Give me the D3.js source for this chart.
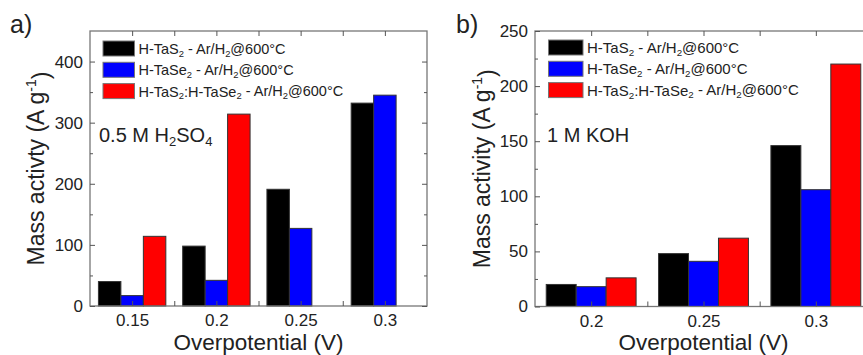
<!DOCTYPE html>
<html>
<head>
<meta charset="utf-8">
<script src="https://cdn.jsdelivr.net/npm/d3@7"></script>
<style>
  body { margin: 0; background: #fff; }
  svg { font-family: "Liberation Sans", Arial, sans-serif; }
</style>
</head>
<body>
<div id="chart"></div>
<script>

// Series (same three samples in both panels)
const seriesColors = ["#000000", "#0000ff", "#ff0000"];
const seriesLabels = [
    [["H-TaS"], ["2", true], [" - Ar/H"], ["2", true], ["@600°C"]],
    [["H-TaSe"], ["2", true], [" - Ar/H"], ["2", true], ["@600°C"]],
    [["H-TaS"], ["2", true], [":H-TaSe"], ["2", true], [" - Ar/H"], ["2", true], ["@600°C"]]
];

// Panel a) 0.5 M H2SO4
const acidPotentials = ["0.15", "0.2", "0.25", "0.3"];
const acidTaS2 = [40, 98, 191, 332];
const acidTaSe2 = [17, 42, 127, 345];
const acidHetero = [114, 314, null, null];
const acidTicks = [0, 100, 200, 300, 400];
const acidMinor = [50, 150, 250, 350];

// Panel b) 1 M KOH
const basePotentials = ["0.2", "0.25", "0.3"];
const baseTaS2 = [20, 48, 146];
const baseTaSe2 = [18, 41, 106];
const baseHetero = [26, 62, 220];
const baseTicks = [0, 50, 100, 150, 200, 250];
const baseMinor = [25, 75, 125, 175, 225];

const width = 863;
const height = 355;

const svg = d3.select("#chart")
    .append("svg")
    .attr("width", width)
    .attr("height", height);

// writes text parts into a <text>, lowering the ones flagged as subscripts
function richText (textSel, parts, subSize) {
    let sub = false;
    parts.forEach(p => {
        const isSub = !!p[1];
        const dy = isSub && !sub ? "0.3em" : (!isSub && sub ? "-0.2em" : 0);
        textSel.append("tspan")
            .attr("dy", dy)
            .style("font-size", isSub ? subSize + "px" : null)
            .text(p[0]);
        sub = isSub;
    });
}

function barPanel (opt) {

    const g = svg.append("g");

    const x = d3.scaleBand()
        .domain(opt.categories)
        .range([opt.left, opt.right])
        .paddingInner(0.2)
        .paddingOuter(0.1);

    // index scale used for the tick marks (centres and between groups)
    const xi = d3.scaleLinear()
        .domain([-0.5, opt.categories.length - 0.5])
        .range([opt.left, opt.right]);

    const xs = d3.scaleBand()
        .domain(d3.range(opt.series.length))
        .range([0, x.bandwidth()]);

    const y = d3.scaleLinear()
        .domain([0, opt.yMax])
        .range([opt.bottom, opt.top]);

    // bars
    opt.series.forEach((values, s) => {
        g.selectAll(".bar-" + s)
            .data(values.map((v, i) => ({cat: opt.categories[i], v: v})).filter(d => d.v != null))
            .enter()
            .append("rect")
            .attr("x", d => x(d.cat) + xs(s))
            .attr("y", d => y(d.v))
            .attr("width", xs.bandwidth())
            .attr("height", d => y(0) - y(d.v))
            .style("fill", seriesColors[s])
            .style("stroke", "#333")
            .style("stroke-width", 1);
    });

    // frame
    g.append("rect")
        .attr("x", opt.left)
        .attr("y", opt.top)
        .attr("width", opt.right - opt.left)
        .attr("height", opt.bottom - opt.top)
        .style("fill", "none")
        .style("stroke", "#777")
        .style("stroke-width", 1.3);

    const centres = d3.range(opt.categories.length);
    const between = d3.range(opt.categories.length - 1).map(i => i + 0.5);

    // bottom axis with labels
    g.append("g")
        .attr("transform", `translate(0,${opt.bottom})`)
        .call(d3.axisBottom(xi).tickValues(centres)
            .tickFormat(i => opt.categories[i])
            .tickSizeInner(-5).tickSizeOuter(0).tickPadding(8))
        .call(a => a.select(".domain").remove())
        .call(a => a.selectAll("text").style("font-size", "17px").style("fill", "#222"))
        .call(a => a.selectAll("line").style("stroke", "#555"));

    g.append("g")
        .attr("transform", `translate(0,${opt.bottom})`)
        .call(d3.axisBottom(xi).tickValues(between).tickFormat("").tickSizeInner(-5).tickSizeOuter(0))
        .call(a => a.select(".domain").remove())
        .call(a => a.selectAll("line").style("stroke", "#555"));

    // top axis
    g.append("g")
        .attr("transform", `translate(0,${opt.top})`)
        .call(d3.axisTop(xi).tickValues(centres.concat(between)).tickFormat("").tickSizeInner(-5).tickSizeOuter(0))
        .call(a => a.select(".domain").remove())
        .call(a => a.selectAll("line").style("stroke", "#555"));

    // left axis
    g.append("g")
        .attr("transform", `translate(${opt.left},0)`)
        .call(d3.axisLeft(y).tickValues(opt.ticks).tickSizeInner(-5).tickSizeOuter(0).tickPadding(7))
        .call(a => a.select(".domain").remove())
        .call(a => a.selectAll("text").style("font-size", "17px").style("fill", "#222"))
        .call(a => a.selectAll("line").style("stroke", "#555"));

    g.append("g")
        .attr("transform", `translate(${opt.left},0)`)
        .call(d3.axisLeft(y).tickValues(opt.minor).tickFormat("").tickSizeInner(-3).tickSizeOuter(0))
        .call(a => a.select(".domain").remove())
        .call(a => a.selectAll("line").style("stroke", "#555"));

    // right axis
    g.append("g")
        .attr("transform", `translate(${opt.right},0)`)
        .call(d3.axisRight(y).tickValues(opt.ticks).tickFormat("").tickSizeInner(-5).tickSizeOuter(0))
        .call(a => a.select(".domain").remove())
        .call(a => a.selectAll("line").style("stroke", "#555"));

    g.append("g")
        .attr("transform", `translate(${opt.right},0)`)
        .call(d3.axisRight(y).tickValues(opt.minor).tickFormat("").tickSizeInner(-3).tickSizeOuter(0))
        .call(a => a.select(".domain").remove())
        .call(a => a.selectAll("line").style("stroke", "#555"));

    // axis titles
    g.append("text")
        .attr("x", (opt.left + opt.right) / 2)
        .attr("y", 350)
        .attr("text-anchor", "middle")
        .style("font-size", "22.5px")
        .style("fill", "#222")
        .text("Overpotential (V)");

    const yTitle = g.append("text")
        .attr("transform", `translate(${opt.yTitleX},${(opt.top + opt.bottom) / 2}) rotate(-90)`)
        .attr("text-anchor", "middle")
        .style("font-size", "23px")
        .style("fill", "#222");
    yTitle.append("tspan").text(opt.yTitle + " (A g");
    yTitle.append("tspan").attr("dy", "-0.55em").style("font-size", "14px").text("-1");
    yTitle.append("tspan").attr("dy", "0.55em").text(")");

    // panel letter
    g.append("text")
        .attr("x", opt.letterX)
        .attr("y", 33)
        .style("font-size", "25px")
        .style("fill", "#222")
        .text(opt.letter);

    // electrolyte note
    const note = g.append("text")
        .attr("x", opt.noteX)
        .attr("y", 142)
        .style("font-size", "20px")
        .style("fill", "#222");
    richText(note, opt.note, 13);

    // legend
    const legend = g.append("g");
    seriesLabels.forEach((parts, s) => {
        const rowY = opt.legendTop + s * 21.3;
        legend.append("rect")
            .attr("x", opt.legendX)
            .attr("y", rowY)
            .attr("width", opt.swatchW)
            .attr("height", 15)
            .style("fill", seriesColors[s])
            .style("stroke", "#777")
            .style("stroke-width", 1);
        const t = legend.append("text")
            .attr("x", opt.legendX + opt.swatchW + 4)
            .attr("y", rowY + 13)
            .style("font-size", opt.legendSize + "px")
            .style("fill", "#222");
        richText(t, parts, opt.legendSize * 0.65);
    });
}

barPanel({
    categories: acidPotentials,
    series: [acidTaS2, acidTaSe2, acidHetero],
    ticks: acidTicks,
    minor: acidMinor,
    yMax: 450,
    left: 90, right: 427, top: 31, bottom: 306,
    yTitle: "Mass activty",
    yTitleX: 44,
    letter: "a)", letterX: 10,
    note: [["0.5 M H"], ["2", true], ["SO"], ["4", true]],
    noteX: 99,
    legendX: 103, legendTop: 41, swatchW: 31.5, legendSize: 14.5
});

barPanel({
    categories: basePotentials,
    series: [baseTaS2, baseTaSe2, baseHetero],
    ticks: baseTicks,
    minor: baseMinor,
    yMax: 250,
    left: 535, right: 872, top: 31, bottom: 306.5,
    yTitle: "Mass activity",
    yTitleX: 490,
    letter: "b)", letterX: 456,
    note: [["1 M KOH"]],
    noteX: 547,
    legendX: 548.5, legendTop: 40, swatchW: 34.5, legendSize: 15
});

</script>
</body>
</html>
